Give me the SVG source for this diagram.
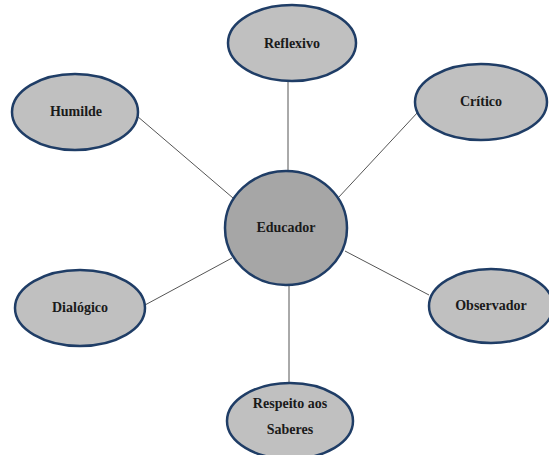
<svg xmlns="http://www.w3.org/2000/svg" width="549" height="455" viewBox="0 0 549 455">
<style>
.n{fill:#c0c0c0;stroke:#1f3d66;stroke-width:2.5}
.c{fill:#a6a6a6;stroke:#1f3d66;stroke-width:2.5}
.t{font-family:"Liberation Serif","Times New Roman",serif;font-weight:bold;font-size:14px;fill:#1a1a1a;text-anchor:middle}
.l{stroke:#555;stroke-width:1;fill:none}
</style>
<rect width="549" height="455" fill="#fff"/>
<g id="connectors">
<line class="l" x1="288" y1="82" x2="288" y2="172"/>
<line class="l" x1="137" y1="116" x2="233" y2="198"/>
<line class="l" x1="418" y1="112" x2="338" y2="198"/>
<line class="l" x1="145" y1="305" x2="232" y2="258"/>
<line class="l" x1="429" y1="295" x2="345" y2="251"/>
<line class="l" x1="289" y1="285" x2="289" y2="383"/>
</g>
<g id="reflexivo"><ellipse class="n" cx="292" cy="43" rx="64" ry="38"/><text class="t" x="292" y="48">Reflexivo</text></g>
<g id="humilde"><ellipse class="n" cx="75" cy="112" rx="63" ry="38"/><text class="t" x="76" y="116">Humilde</text></g>
<g id="critico"><ellipse class="n" cx="481" cy="102" rx="66" ry="38"/><text class="t" x="481" y="106">Crítico</text></g>
<g id="educador"><ellipse class="c" cx="286" cy="228" rx="61" ry="57"/><text class="t" x="286" y="232">Educador</text></g>
<g id="dialogico"><ellipse class="n" cx="80" cy="308" rx="65" ry="38"/><text class="t" x="80" y="312">Dialógico</text></g>
<g id="observador"><ellipse class="n" cx="491" cy="306" rx="62" ry="37"/><text class="t" x="491" y="310">Observador</text></g>
<g id="respeito"><ellipse class="n" cx="290" cy="421" rx="63" ry="38"/><text class="t" x="290" y="408">Respeito aos</text><text class="t" x="290" y="434">Saberes</text></g>
</svg>
